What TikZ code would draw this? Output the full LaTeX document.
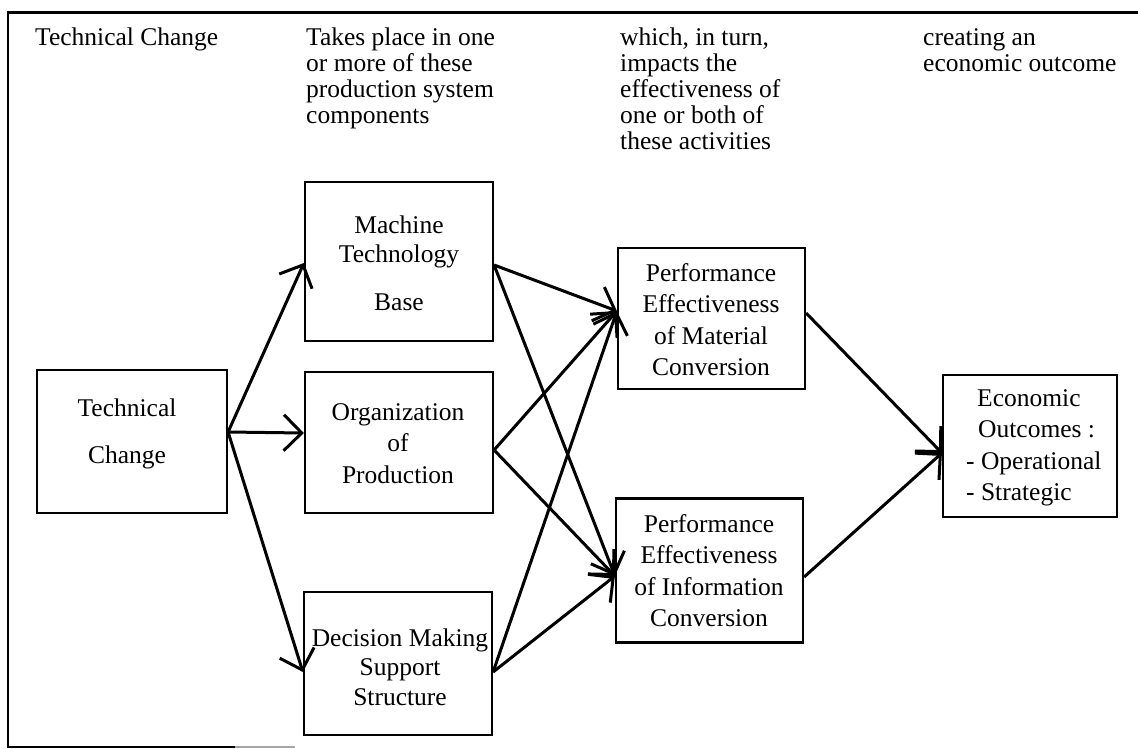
\documentclass[tikz,border=0pt]{standalone}
\usepackage{fontspec}
\setmainfont{Liberation Serif}
\usetikzlibrary{arrows.meta,calc}
\newcommand{\myboxfont}{\fontsize{25.5}{31.5}\selectfont\lineskiplimit=-100pt\relax}
\newcommand{\myhdrfont}{\fontsize{25.5}{26}\selectfont\lineskiplimit=-100pt\relax}
\begin{document}
\begin{tikzpicture}[x=1pt,y=-1pt,
  box/.style={draw, line width=2.2pt, inner sep=0pt},
  txt/.style={inner sep=0pt, align=center, font=\myboxfont},
  hdr/.style={inner sep=0pt, align=left, anchor=north west, font=\myhdrfont},
  arr/.style={line width=3pt, -{Straight Barb[length=18pt,width=36pt]}},
  frameline/.style={line width=2.2pt}]
\useasboundingbox (0,0) rectangle (1138,748);
% frame
\coordinate (ftl) at (8,12.5);
\coordinate (ftr) at (1138,12.5);
\coordinate (fbl) at (8,747);
\coordinate (fbm) at (235,747);
\coordinate (fbe) at (295,747);
\draw[frameline] (ftr) -- (ftl) -- (fbl) -- (fbm);
\draw[frameline, black!35] (fbm) -- (fbe);
% header texts (first baseline at 45)
\node[hdr] (h1) at (35,26.8) {\strut Technical Change};
\node[hdr] (h2) at (306,26.8) {\strut Takes place in one\\or more of these\\production system\\components};
\node[hdr] (h3) at (620,26.8) {\strut which, in turn,\\impacts the\\effectiveness of\\one or both of\\these activities};
\node[hdr] (h4) at (923,26.8) {\strut creating an\\economic outcome};
% boxes
\node[box, minimum width=190pt, minimum height=143pt] (tc)   at (132,441.5) {};
\node[box, minimum width=188pt, minimum height=159pt] (mtb)  at (399,261.5) {};
\node[box, minimum width=188pt, minimum height=141pt] (org)  at (399,442.5) {};
\node[box, minimum width=188pt, minimum height=143pt] (dmss) at (398,663.5) {};
\node[box, minimum width=187pt, minimum height=141pt] (mat)  at (711.5,318.5) {};
\node[box, minimum width=187pt, minimum height=144pt] (info) at (709.5,570.5) {};
\node[box, minimum width=174pt, minimum height=142pt] (eco)  at (1030,446) {};
% box texts
\node[txt] (tct)   at (127,433.5) {\strut Technical\\[15.5pt]Change\strut};
\node[txt] (mtbt)  at (399,265.5) {\strut Machine\\[-2.5pt]Technology\\[16pt]Base\strut};
\node[txt] (orgt)  at (398,445.5) {\strut Organization\\of\\Production\strut};
\node[txt] (dmsst) at (400,669.5) {\strut Decision Making\\[-2pt]Support\\[-2pt]Structure\strut};
\node[txt] (matt)  at (711,322) {\strut Performance\\Effectiveness\\of Material\\Conversion\strut};
\node[txt] (infot) at (709,573) {\strut Performance\\Effectiveness\\of Information\\Conversion\strut};
\node[txt, align=left, anchor=west] (ecot) at (966,447) {\strut\hspace*{11pt}Economic\\\hspace*{12pt}Outcomes :\\- Operational\\- Strategic\strut};
% connectors
\draw[arr] ($(tc.east)+(0,-9.5)$) -- ($(mtb.west)+(0,1.5)$);
\draw[arr] ($(tc.east)+(0,-9.5)$) -- ($(org.west)+(0,-9.5)$);
\draw[arr] ($(tc.east)+(0,-9.5)$) -- ($(dmss.west)+(0,8.5)$);
\draw[arr] ($(mtb.east)+(0,3.5)$) -- ($(mat.west)+(0,-7.5)$);
\draw[arr] ($(mtb.east)+(0,3.5)$) -- ($(info.west)+(0,5.5)$);
\draw[arr] ($(org.east)+(0,7.5)$) -- ($(mat.west)+(0,-7.5)$);
\draw[arr] ($(org.east)+(0,7.5)$) -- ($(info.west)+(0,5.5)$);
\draw[arr] ($(dmss.east)+(0,8.5)$) -- ($(mat.west)+(0,-7.5)$);
\draw[arr] ($(dmss.east)+(0,8.5)$) -- ($(info.west)+(0,5.5)$);
\draw[arr] ($(mat.east)+(0,-5.5)$) -- ($(eco.west)+(0,7)$);
\draw[arr] ($(info.east)+(0,6.5)$) -- ($(eco.west)+(0,7)$);
\end{tikzpicture}
\end{document}
